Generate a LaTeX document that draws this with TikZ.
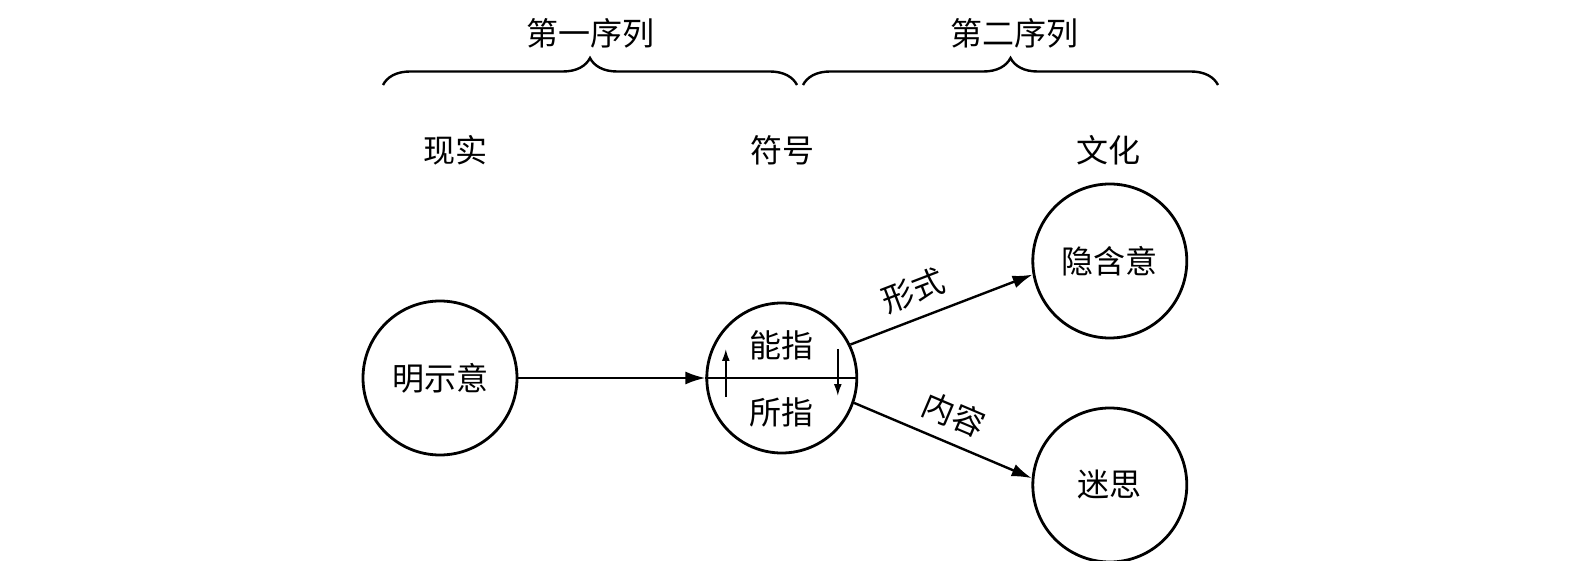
\documentclass[tikz,border=0pt]{standalone}
\usepackage{fontspec}
\newfontfamily\cjk{Noto Sans CJK SC}
\usetikzlibrary{arrows.meta,positioning,decorations.pathreplacing}

\begin{document}
\begin{tikzpicture}[x=1pt,y=1pt,>=Latex,
  circ/.style={draw,circle,line width=2.8pt,inner sep=0pt,minimum size=154pt,font=\cjk\fontsize{32}{38}\selectfont},
  lbl/.style={inner sep=0pt,font=\cjk\fontsize{32}{38}\selectfont},
  arr/.style={->,line width=2.4pt,>={Latex[length=20pt,width=13pt]}},
  tinyarr/.style={->,line width=1.8pt,>={Latex[length=12pt,width=8pt]}},
  brc/.style={decorate,decoration={brace,amplitude=27pt},line width=2.4pt}]
  \useasboundingbox (0,0) rectangle (1571,560);
  % circles
  \node[circ] (ming) at (440,182) {明示意};
  \node[circ,minimum size=150pt,right=187pt of ming] (fuhao) {};
  \node[circ] (yin) at ([shift={(328,117)}]fuhao) {隐含意};
  \node[circ] (mi) at ([shift={(328,-107)}]fuhao) {迷思};
  % inside the sign
  \draw[line width=2.4pt] (fuhao.west) -- (fuhao.east);
  \node[lbl] (nz) at ([yshift=33pt]fuhao.center) {能指};
  \node[lbl] (sz) at ([yshift=-34pt]fuhao.center) {所指};
  \coordinate (up1) at ([shift={(-56,-19)}]fuhao.center);
  \coordinate (up2) at ([shift={(-56,29)}]fuhao.center);
  \coordinate (dn1) at ([shift={(56,29)}]fuhao.center);
  \coordinate (dn2) at ([shift={(56,-18)}]fuhao.center);
  \draw[tinyarr] (up1) -- (up2);
  \draw[tinyarr] (dn1) -- (dn2);
  % connectors
  \draw[arr] (ming) -- (fuhao);
  \draw[arr] (fuhao.26) -- node[lbl,sloped,above=12pt,pos=0.4] (xs) {形式} (yin.190);
  \draw[arr] (fuhao.-19) -- node[lbl,sloped,above=12pt,pos=0.5] (nr) {内容} (mi.175);
  % headings
  \node[lbl] (xianshi) at (455,410) {现实};
  \node[lbl] (fh) at (782,410) {符号};
  \node[lbl] (wh) at (1108,410) {文化};
  \coordinate (b1l) at (383,475);
  \coordinate (b1r) at (797,475);
  \coordinate (b2l) at (803,475);
  \coordinate (b2r) at (1218,475);
  \draw[brc] (b1l) -- (b1r);
  \draw[brc] (b2l) -- (b2r);
  \node[lbl] (xl1) at (590,527) {第一序列};
  \node[lbl] (xl2) at (1014,527) {第二序列};
\end{tikzpicture}
\end{document}
